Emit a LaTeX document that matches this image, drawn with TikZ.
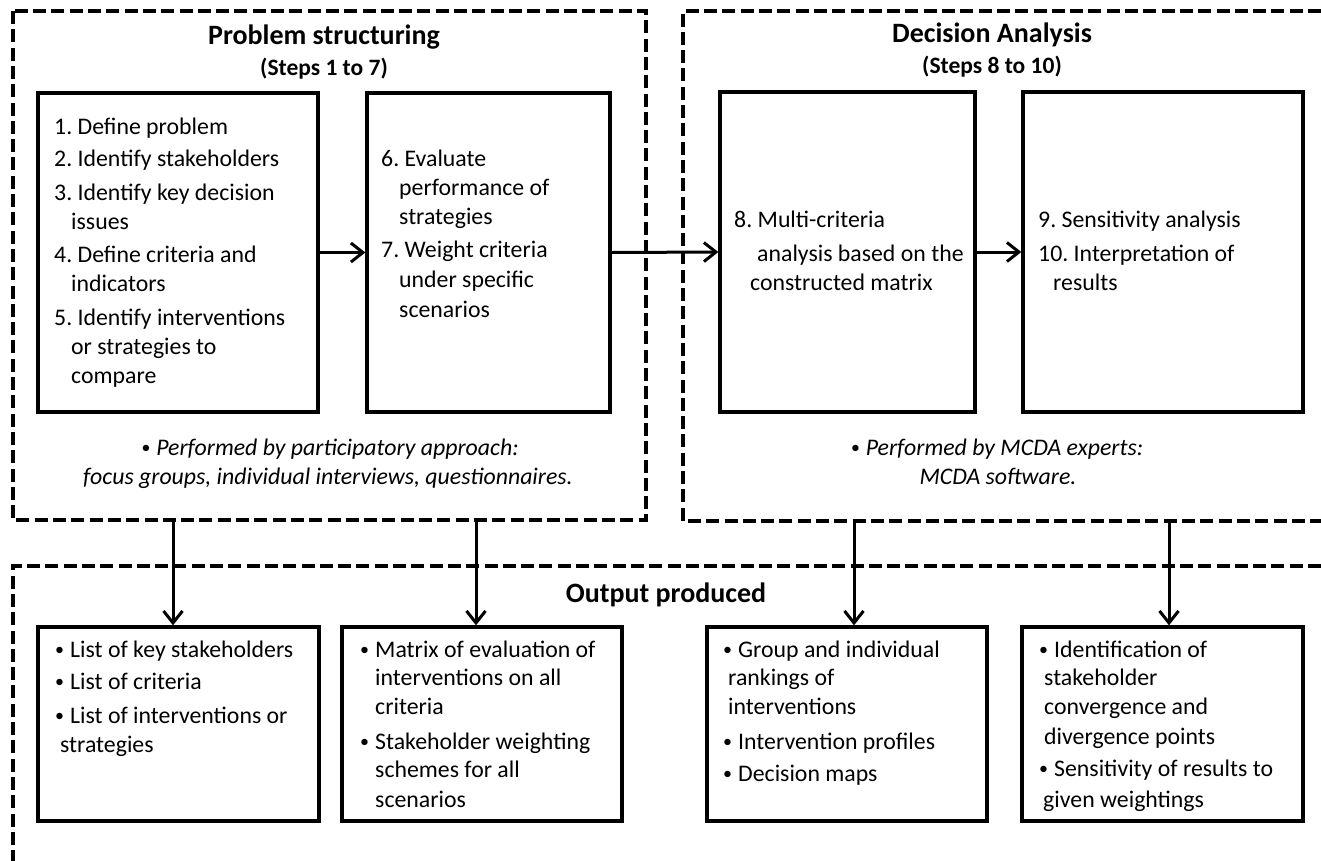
\documentclass[tikz,border=0pt]{standalone}
\usepackage{fontspec}
\setmainfont{Carlito}
\usetikzlibrary{arrows.meta}
\newcommand\bodyfnt{\fontsize{23.8}{29}\selectfont}
\newcommand\bul{\makebox[15pt][l]{\raisebox{1.5pt}{\fontsize{18}{20}\selectfont •}}}
\newcommand\mytl[4]{\node[txt] (#1) at (#2,#3) {#4};}
\frenchspacing
\begin{document}
\begin{tikzpicture}[x=1pt,y=-1pt,
  sbox/.style={draw, line width=3.3pt, inner sep=0pt},
  frame/.style={line width=4pt, dash pattern=on 13pt off 5.3pt},
  arr/.style={line width=3pt, -{Straight Barb[length=12pt,width=19pt]}},
  txt/.style={anchor=base west, inner sep=0pt, font=\bodyfnt},
  ttl/.style={anchor=base, inner sep=0pt, font=\bfseries\fontsize{28}{34}\selectfont},
  sub/.style={anchor=base, inner sep=0pt, font=\bfseries\fontsize{23.5}{29}\selectfont},
  ital/.style={anchor=base, inner sep=0pt, font=\itshape\bodyfnt}]
\useasboundingbox (0,0) rectangle (1321,860);
\fill[white] (0,0) rectangle (1321,860);

% dashed frames
\draw[frame] (13,11) rectangle (646,520);
\draw[frame] (1321,11) -- (683,11) -- (683,521) -- (1321,521);
\draw[frame] (1321,566) -- (13,566) -- (13,862);

% process boxes
\node[sbox, minimum width=280pt, minimum height=319pt] (b1) at (178,252.5) {};
\node[sbox, minimum width=243pt, minimum height=319pt] (b2) at (488.5,252.5) {};
\node[sbox, minimum width=255pt, minimum height=320pt] (b8) at (847.5,252) {};
\node[sbox, minimum width=280pt, minimum height=320pt] (b9) at (1163,252) {};

% output boxes
\node[sbox, minimum width=281pt, minimum height=194pt] (oA) at (178.5,724) {};
\node[sbox, minimum width=280pt, minimum height=194pt] (oB) at (482,724) {};
\node[sbox, minimum width=280pt, minimum height=194pt] (oC) at (847,724) {};
\node[sbox, minimum width=281pt, minimum height=194pt] (oD) at (1162.5,724) {};

% titles
\node[ttl] (t1) at (324,44) {Problem structuring};
\node[sub] (s1) at (324,75) {(Steps 1 to 7)};
\node[ttl] (t2) at (992,42) {Decision Analysis};
\node[sub] (s2) at (992,73) {(Steps 8 to 10)};
\node[ttl] (t3) at (666,602) {Output produced};

% box 1
\mytl{l11}{54}{134}{1. Define problem}
\mytl{l12}{54}{166}{2. Identify stakeholders}
\mytl{l13}{54}{200}{3. Identify key decision}
\mytl{l14}{71}{229}{issues}
\mytl{l15}{54}{262}{4. Define criteria and}
\mytl{l16}{71}{291}{indicators}
\mytl{l17}{54}{325}{5. Identify interventions}
\mytl{l18}{71}{354}{or strategies to}
\mytl{l19}{71}{383}{compare}
% box 2
\mytl{l21}{381}{166}{6. Evaluate}
\mytl{l22}{399}{195}{performance of}
\mytl{l23}{399}{224}{strategies}
\mytl{l24}{381}{257}{7. Weight criteria}
\mytl{l25}{399}{287}{under specific}
\mytl{l26}{399}{317}{scenarios}
% box 8
\mytl{l81}{734}{227}{8. Multi-criteria}
\mytl{l82}{757}{261}{analysis based on the}
\mytl{l83}{750}{290}{constructed matrix}
% box 9
\mytl{l91}{1038}{227}{9. Sensitivity analysis}
\mytl{l92}{1038}{261}{10. Interpretation of}
\mytl{l93}{1053}{290}{results}

% italic notes
\node[ital] (n1) at (330,455) {\bul Performed by participatory approach:};
\node[ital] (n2) at (328,484) {focus groups, individual interviews, questionnaires.};
\node[ital] (n3) at (997,455) {\bul Performed by MCDA experts:};
\node[ital] (n4) at (998,484) {MCDA software.};

% output A
\mytl{a1}{55}{657}{\bul List of key stakeholders}
\mytl{a2}{55}{689}{\bul List of criteria}
\mytl{a3}{55}{723}{\bul List of interventions or}
\mytl{a4}{60}{752}{strategies}
% output B
\mytl{bb1}{360}{657}{\bul Matrix of evaluation of}
\mytl{bb2}{375}{685}{interventions on all}
\mytl{bb3}{375}{714}{criteria}
\mytl{bb4}{360}{749}{\bul Stakeholder weighting}
\mytl{bb5}{375}{777}{schemes for all}
\mytl{bb6}{375}{807}{scenarios}
% output C
\mytl{c1}{723}{657}{\bul Group and individual}
\mytl{c2}{728}{685}{rankings of}
\mytl{c3}{728}{714}{interventions}
\mytl{c4}{723}{749}{\bul Intervention profiles}
\mytl{c5}{723}{781}{\bul Decision maps}
% output D
\mytl{d1}{1039}{657}{\bul Identification of}
\mytl{d2}{1044}{685}{stakeholder}
\mytl{d3}{1044}{714}{convergence and}
\mytl{d4}{1044}{744}{divergence points}
\mytl{d5}{1039}{776}{\bul Sensitivity of results to}
\mytl{d6}{1043}{807}{given weightings}

% horizontal arrows
\draw[arr] (b1.east) -- (b2.west);
\draw[arr] (b2.east) -- (b8.west);
\draw[arr] (b8.east) -- (b9.west);

% vertical arrows
\coordinate (p1) at (173,520);
\coordinate (p2) at (476,520);
\coordinate (p3) at (854,521);
\coordinate (p4) at (1169,521);
\draw[arr] (p1) -- (p1 |- oA.north);
\draw[arr] (p2) -- (p2 |- oB.north);
\draw[arr] (p3) -- (p3 |- oC.north);
\draw[arr] (p4) -- (p4 |- oD.north);
\end{tikzpicture}
\end{document}
